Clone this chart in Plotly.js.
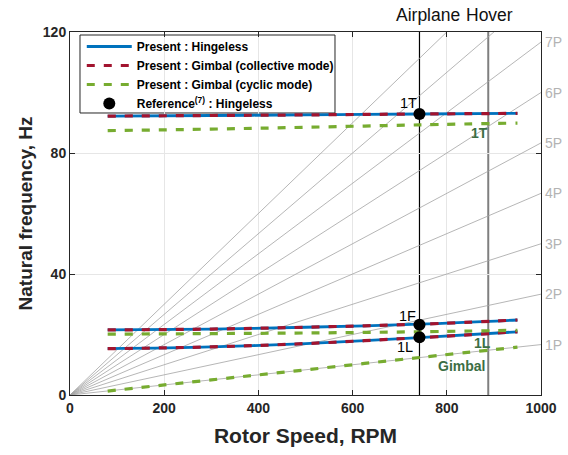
<!DOCTYPE html>
<html>
<head>
<meta charset="utf-8">
<script src="https://cdn.plot.ly/plotly-3.0.1.min.js"></script>
<style>
  html, body { margin: 0; padding: 0; background: #fff; }
  #chart { width: 568px; height: 455px; }
</style>
</head>
<body>
<div id="chart"></div>
<script>
// Rotor speed samples (RPM) for the computed modes
const rpm = [80, 300, 500, 742, 950];

// Present analysis: hingeless rotor (Hz)
const hingeless1T = [92.2, 92.4, 92.6, 92.9, 93.1];
const hingeless1F = [21.5, 21.8, 22.4, 23.4, 24.8];
const hingeless1L = [15.3, 15.9, 17.0, 18.95, 20.9];

// Present analysis: gimbal rotor, collective mode (Hz)
const collective1T = [92.2, 92.4, 92.6, 92.9, 93.1];
const collective1F = [21.5, 21.8, 22.4, 23.4, 24.8];
const collective1L = [15.3, 15.9, 17.0, 18.95, 20.9];

// Present analysis: gimbal rotor, cyclic mode (Hz)
const cyclic1T = [87.4, 87.9, 88.5, 89.3, 89.9];
const cyclicMid = [20.1, 20.3, 20.5, 20.9, 21.4];
const cyclic1L = [1.3, 5.0, 8.3, 12.4, 15.8];

// Reference (7) hingeless results at airplane-mode speed
const refRpm = [742, 742, 742];
const refFreq = [92.9, 23.2, 19.1];
const refLabels = ['1T', '1F', '1L'];

// Operating speeds
const opNames = ['Airplane', 'Hover'];
const opRpm = [742, 888];

// Per-rev excitation orders and the speed range of the fan lines
const harmonics = [1, 2, 3, 4, 5, 6, 7, 8, 9];
const fanRpm = [0, 1000];

const BLUE = '#0072BD', RED = '#A2142F', GREEN = '#77AC30';
const DKGREEN = '#3B6E44', FAN = '#a3a3a3', INK = '#262626';
const FONT = 'Liberation Sans, Arial, sans-serif';

const traces = [];

// Fan of nP lines through the origin
harmonics.forEach(n => {
  traces.push({
    x: fanRpm, y: fanRpm.map(r => n * r / 60),
    mode: 'lines', line: {color: FAN, width: 0.8},
    hoverinfo: 'skip', showlegend: false
  });
});

function modeLine(y, name, color, dash, width, show) {
  return {
    x: rpm, y: y, name: name, mode: 'lines',
    line: {color: color, width: width, dash: dash, shape: 'spline'},
    showlegend: show
  };
}

const nH = 'Present : Hingeless';
const nC = 'Present : Gimbal (collective mode)';
const nY = 'Present : Gimbal (cyclic mode)';

traces.push(modeLine(hingeless1T, nH, BLUE, 'solid', 2.8, true));
traces.push(modeLine(hingeless1F, nH, BLUE, 'solid', 2.8, false));
traces.push(modeLine(hingeless1L, nH, BLUE, 'solid', 2.8, false));
traces.push(modeLine(collective1T, nC, RED, '8px,9px', 3.2, true));
traces.push(modeLine(collective1F, nC, RED, '8px,9px', 3.2, false));
traces.push(modeLine(collective1L, nC, RED, '8px,9px', 3.2, false));
traces.push(modeLine(cyclic1T, nY, GREEN, '8px,9px', 3.2, true));
traces.push(modeLine(cyclicMid, nY, GREEN, '8px,9px', 3.2, false));
traces.push(modeLine(cyclic1L, nY, GREEN, '8px,9px', 3.2, false));

traces.push({
  x: refRpm, y: refFreq, mode: 'markers',
  name: 'Reference<sup>(7)</sup> : Hingeless',
  marker: {color: '#000', size: 12}
});

const annotations = [];

// nP labels at the right edge
harmonics.filter(n => n * fanRpm[1] / 60 <= 120).forEach(n => {
  annotations.push({
    x: fanRpm[1], y: n * fanRpm[1] / 60, xref: 'x', yref: 'y',
    text: n + 'P', showarrow: false, xanchor: 'left', xshift: 2,
    font: {family: FONT, size: 14, color: '#b3b3b3'}
  });
});

// Operating-speed labels above the plot
const opShift = [9, 1];
opNames.forEach((t, i) => {
  annotations.push({
    x: opRpm[i], y: 1.047, xref: 'x', yref: 'paper', text: t,
    showarrow: false, xshift: opShift[i], yanchor: 'middle',
    font: {family: FONT, size: 17.5, color: '#111'}
  });
});

// Mode labels for the reference points
const refShift = [[-11, 11], [-12, 9], [-14, -10]];
refLabels.forEach((t, i) => {
  annotations.push({
    x: refRpm[i], y: refFreq[i], xref: 'x', yref: 'y', text: t,
    showarrow: false, xshift: refShift[i][0], yshift: refShift[i][1],
    font: {family: FONT, size: 14.5, color: '#000'}
  });
});

// Gimbal cyclic mode labels
[['1T', 870, 86.6], ['1L', 875, 17.2], ['Gimbal', 832, 9.6]].forEach(a => {
  annotations.push({
    x: a[1], y: a[2], xref: 'x', yref: 'y', text: a[0], showarrow: false,
    font: {family: FONT, size: 14, color: DKGREEN, weight: 'bold'}
  });
});

// Operating-speed markers, plus the framed white panel behind the legend
const shapes = opRpm.map((r, i) => ({
  type: 'line', xref: 'x', yref: 'paper', x0: r, x1: r, y0: 0, y1: 1,
  layer: 'below',
  line: {color: i === 0 ? '#000' : '#7f7f7f', width: i === 0 ? 1.2 : 2}
}));
shapes.push({
  type: 'rect', xref: 'paper', yref: 'paper',
  x0: 0.0212, x1: 0.5626, y0: 0.7769, y1: 0.9917,
  layer: 'below', fillcolor: '#fff', line: {color: INK, width: 1}
});

const axisCommon = {
  showline: true, linecolor: INK, linewidth: 1, mirror: 'ticks',
  ticks: 'inside', ticklen: 5, tickcolor: INK,
  showgrid: true, gridcolor: '#e6e6e6', zeroline: false,
  tickfont: {family: FONT, size: 14, color: INK, weight: 'bold'}
};

const layout = {
  width: 568, height: 455,
  margin: {l: 70, r: 27, t: 32, b: 60},
  paper_bgcolor: '#fff', plot_bgcolor: '#fff',
  font: {family: FONT, color: INK},
  xaxis: Object.assign({}, axisCommon, {
    range: [0, 1000], tickvals: [0, 200, 400, 600, 800, 1000],
    title: {text: 'Rotor Speed, RPM', standoff: 13,
            font: {family: FONT, size: 21, color: INK, weight: 'bold'}}
  }),
  yaxis: Object.assign({}, axisCommon, {
    range: [0, 120], tickvals: [0, 40, 80, 120],
    title: {text: 'Natural frequency, Hz', standoff: 5,
            font: {family: FONT, size: 19, color: INK, weight: 'bold'}}
  }),
  legend: {
    x: 0.025, y: 1.0, xanchor: 'left', yanchor: 'top',
    bgcolor: 'rgba(0,0,0,0)', borderwidth: 0,
    itemwidth: 45,
    font: {family: FONT, size: 12, color: '#000', weight: 'bold'},
    tracegroupgap: 0
  },
  showlegend: true,
  annotations: annotations,
  shapes: shapes
};

Plotly.newPlot('chart', traces, layout, {displayModeBar: false, staticPlot: true});
</script>
</body>
</html>
